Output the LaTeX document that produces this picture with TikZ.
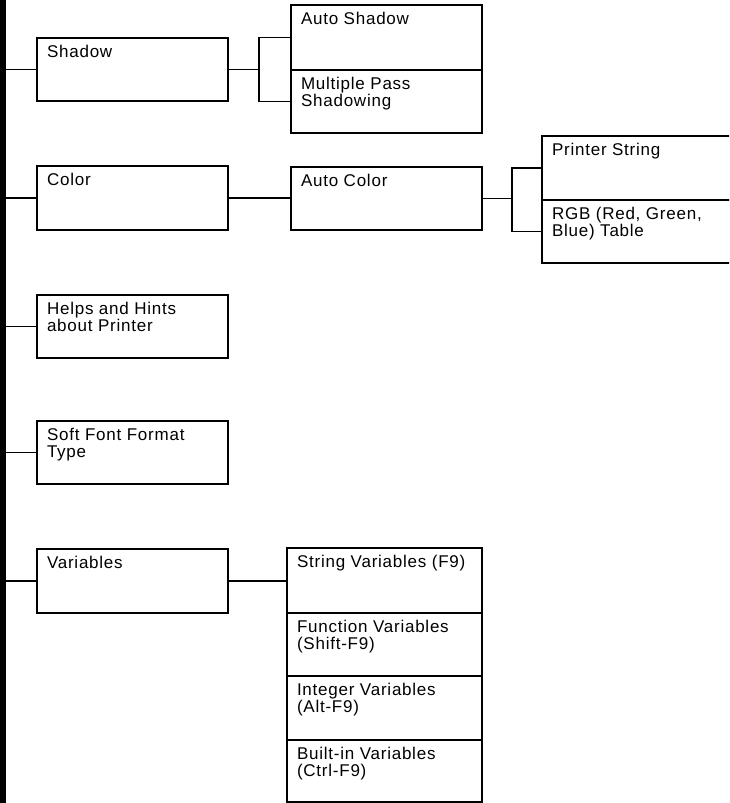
\documentclass[tikz,border=0pt]{standalone}
\usepackage{fontspec}
\setmainfont{Liberation Sans}[LetterSpace=4.5]
\usetikzlibrary{positioning}

% text of one menu box: width, height, text
\newcommand{\celltext}[3]{\parbox[t][#2pt][t]{#1pt}{\raggedright\vspace*{7.5pt}#3}}

\begin{document}
\begin{tikzpicture}[
        x=1pt, y=-1pt, % one unit is one pixel of the page, y runs down
        line width=1.5pt, % Sets a default thickness for the connectors
        menubox/.style={draw, line width=1.6pt, anchor=north west,
            inner xsep=10pt, inner ysep=0pt, outer sep=0pt,
            font=\fontsize{17}{16.8}\selectfont}
        ]

        % 1. Size of the page
        \useasboundingbox (0,0) rectangle (729,803);
        \clip (0,0) rectangle (729,803);

        % 2. The thick bar on the left
        \node[fill=black, anchor=north west, inner sep=0pt, outer sep=0pt,
            minimum width=6pt, minimum height=803pt] (bar) at (0,0) {};

        % 3. Main entries
        \node[menubox] (shadow) at (37,38) {\celltext{171}{63}{Shadow}};
        \node[menubox] (color) at (37,166) {\celltext{171}{64}{Color}};
        \node[menubox] (helps) at (37,295) {\celltext{171}{63}{Helps and Hints\\about Printer}};
        \node[menubox] (softfont) at (37,421) {\celltext{171}{63}{Soft Font Format\\Type}};
        \node[menubox] (variables) at (37,549) {\celltext{171}{64}{Variables}};

        % 4. Sub entries
        % Shadow
        \node[menubox] (autoshadow) at (291,5) {\celltext{171}{65}{Auto Shadow}};
        \node[menubox, below=0pt of autoshadow] (multipass) {\celltext{171}{63}{Multiple Pass\\Shadowing}};

        % Color
        \node[menubox] (autocolor) at (291,167) {\celltext{171}{63}{Auto Color}};
        \node[menubox] (printerstr) at (542,136) {\celltext{200}{64}{Printer String}};
        \node[menubox, below=0pt of printerstr] (rgb) {\celltext{200}{63}{RGB (Red, Green,\\Blue) Table}};

        % Variables
        \node[menubox] (stringvar) at (287,548) {\celltext{175}{65}{String Variables (F9)}};
        \node[menubox, below=0pt of stringvar] (funcvar) {\celltext{175}{63}{Function Variables\\(Shift-F9)}};
        \node[menubox, below=0pt of funcvar] (intvar) {\celltext{175}{64}{Integer Variables\\(Alt-F9)}};
        \node[menubox, below=0pt of intvar] (builtinvar) {\celltext{175}{62}{Built-in Variables\\(Ctrl-F9)}};

        % 5. Connectors from the bar
        \foreach \n in {shadow, color, helps, softfont, variables}
            \draw (bar.east |- \n.west) -- (\n.west);

        % 6. Connectors between the boxes
        \draw (autoshadow.west) -- ++(-32,0) coordinate (shadowfork) |- (multipass.west);
        \draw (shadow.east) -- (shadowfork |- shadow.east);

        \draw (color.east) -- (color.east -| autocolor.west);
        \draw (printerstr.west) -- ++(-30,0) coordinate (colorfork) |- (rgb.west);
        \draw (autocolor.east) -- (colorfork |- autocolor.east);

        \draw (variables.east) -- (variables.east -| stringvar.west);
    \end{tikzpicture}
\end{document}
